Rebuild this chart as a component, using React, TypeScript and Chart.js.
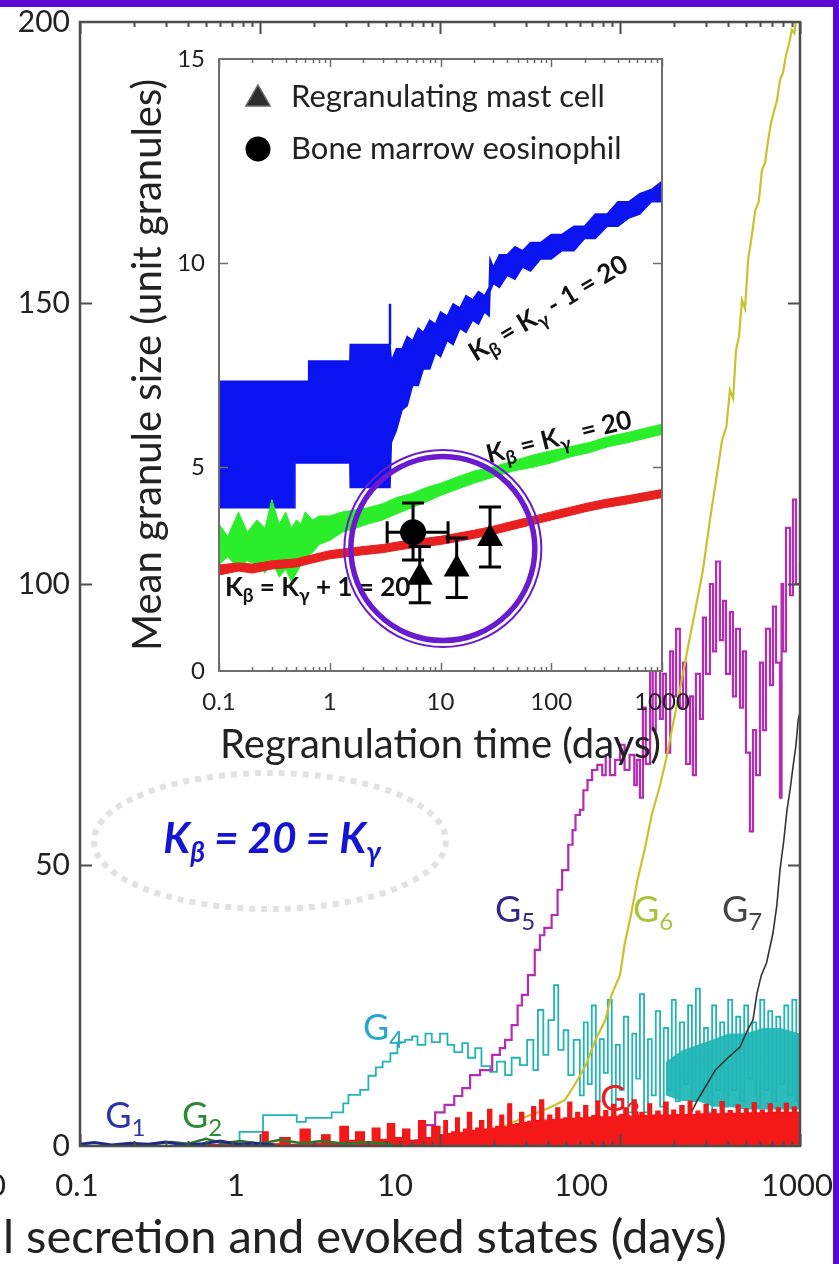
import { useEffect, useRef } from 'react';
import { Chart, registerables } from 'chart.js';

Chart.register(...registerables);

const FAMILY = 'Lato, "Open Sans", "DejaVu Sans", sans-serif';
const INK = '#222222';
const FRAME = '#5a08d2';

/* ---------- main panel: granules in each size class (G1..G7) vs time (days) ---------- */
const mainXTickText = ['0', '0.1', '1', '10', '100', '1000'];

const g1Days = [0.1, 0.12, 0.15, 0.19, 0.24, 0.3, 0.38, 0.48, 0.6, 0.75, 0.95, 1.2];
const g1Count = [0.3, 0.6, 0.2, 0.5, 0.3, 0.7, 0.2, 0.4, 0.9, 0.3, 0.5, 0.2];

const g2Days = [0.25, 0.32, 0.4, 0.5, 0.62, 0.78, 1.0, 1.3, 1.7, 2.2, 3.0, 4.0, 5.5];
const g2Count = [0.3, 0.7, 0.4, 1.3, 0.5, 0.9, 0.4, 1.1, 0.5, 0.9, 0.4, 0.7, 0.3];

const g3Days = [
  0.45, 0.6, 0.75, 0.94, 1.03, 1.11, 1.29, 1.47, 1.67, 1.9, 2.2, 2.45, 2.78, 3.1, 3.4, 3.8, 4.2, 4.64, 5.1, 5.6, 6.2, 6.8, 7.6, 8.3, 9.0,
  10, 10.5, 11, 11.6, 12.2, 12.8, 13.5, 14.2, 15, 15.8,
  16.6, 17.5, 18.4, 19.4, 20.4, 21.5, 22.6, 23.8, 25, 26.3,
  27.7, 29.2, 30.7, 32.3, 34, 35.8, 37.7, 39.7, 41.8, 44,
  46.3, 48.7, 51.3, 54, 56.8, 59.8, 62.9, 66.2, 69.7, 73.4,
  77.2, 81.3, 85.6, 90, 94.8, 99.8, 105, 111, 117, 123,
  129, 136, 143, 150, 158, 167, 175, 185, 194, 204,
  215, 227, 239, 251, 264, 278, 293, 308, 325, 342,
  360, 379, 399, 420, 442, 465, 490, 515, 543, 571,
  601, 633, 666, 701, 738, 777, 818, 861, 906, 954, 1000,
];
const g3Count = [
  0.3, 0.8, 0.3, 0.5, 2.5, 0.4, 1.5, 0.3, 3, 0.5, 2, 0.6, 3.5, 1, 2.5, 0.8, 3.2, 1.2, 4, 1.5, 3, 1, 4.5, 1.5, 3.5,
  2, 4.5, 2.2, 2.5, 5, 2.4, 3, 6, 2.8, 3.2,
  4.5, 3, 6.5, 3.2, 3.5, 5.5, 3.4, 7.5, 3.8, 4,
  6, 4.2, 4.4, 7, 4.5, 8.2, 4.6, 5.5, 4.7, 6.8,
  4.8, 5, 7.8, 4.9, 6, 5, 7.2, 5.1, 5.4, 8,
  5.2, 6.3, 5.2, 7.4, 5.3, 5.6, 6.8, 5.3, 8.2, 5.4,
  6, 5.4, 7.5, 5.5, 6.2, 5.5, 7.8, 5.5, 6.4, 5.6,
  7.2, 5.6, 8, 5.6, 6.2, 5.7, 7.4, 5.7, 6.5, 5.7,
  7.9, 5.8, 6.3, 5.8, 7.3, 5.8, 6.6, 5.9, 7.7, 5.9,
  6.4, 5.9, 7.5, 6, 6.8, 6, 7.6, 6, 6.9, 6, 7,
];

const g4Days = [
  0.7, 0.77, 1.04, 1.6, 1.8, 2.5, 2.9, 3.1, 3.6, 4.0, 4.4, 4.8, 5.3, 5.8, 6.4, 7, 7.5, 8.3, 9, 10,
  11, 12, 13.3, 14.3, 15.7, 17, 19, 20.7, 23, 25, 27.8, 30.5, 33, 35, 37.5, 40, 43, 45.4, 48.6, 51.6, 55.3,
  59.8, 62.9, 66.2, 69.7, 73.4, 77.2, 81.3, 85.6, 90, 94.8, 99.8, 105, 111, 117, 123, 129, 136, 143, 150, 158,
  167, 175, 185, 194, 204, 215, 227, 239, 251, 264, 278, 293, 308, 325, 342, 360, 379, 399, 420, 442,
  465, 490, 515, 543, 571, 601, 633, 666, 701, 738, 777, 818, 861, 906, 954, 1000,
];
const g4Count = [
  0, 2.5, 5.5, 4.3, 5.0, 6.0, 7.6, 9.1, 10, 12.5, 14, 15, 16.5, 18.5, 18.9, 19.5, 18, 20, 18.5, 20,
  18, 16.7, 18.3, 15.7, 17.4, 14.2, 13.2, 15, 12.6, 15.7, 14.4, 18.9, 13.5, 24.2, 16.2, 22.4, 28.6, 17.1, 20.6, 12.6, 18.9,
  9, 22, 11, 25, 8, 19, 13, 26, 7, 18, 10, 23, 6, 20, 12, 27, 6, 19, 9, 24,
  7, 21, 10, 26, 8, 22, 11, 25, 8, 28, 9, 21, 6, 25, 10, 22, 7, 26, 10, 23,
  8, 25, 12, 22, 7, 26, 10, 24, 8, 23, 11, 25, 9, 26, 8, 22,
];

// dense spread of the G4 trace at late times
const g4SpreadDays = [180, 220, 270, 330, 400, 500, 620, 780, 1000];
const g4SpreadLow = [9, 8, 8, 7, 7, 6.5, 6.5, 6.5, 6.5];
const g4SpreadHigh = [15, 17, 18, 19, 20, 20, 21, 21, 20];

const g5Days = [
  6.3, 7.3, 8.3, 9.4, 10.6, 12, 13.3, 14.7, 16.7, 19.5, 21.5, 23, 25, 27, 28.5, 30.8, 33.6, 35.9, 38, 41.7,
  45, 47.7, 51.6, 54.5, 56.6, 59.9, 62.6, 66, 70, 74.8, 79.7, 83.3, 87.9, 94, 100, 106, 113, 120, 124,
  129, 134, 139, 147, 152, 158, 167, 173, 180, 190, 197, 205, 215, 224, 233, 245, 254, 264, 278, 289,
  300, 316, 329, 342, 359, 374, 388, 408, 424, 441, 464, 482, 501, 527, 548, 570, 599, 623, 647, 681,
  708, 736, 774, 790, 805, 836, 880, 914, 950, 1000,
];
const g5Count = [
  0, 1, 3.7, 6, 7.3, 8.9, 10.3, 12.6, 13.5, 16.2, 17.4, 18.9, 21.5, 25, 26.9, 30.4, 34.9, 37.5, 38.8, 41.1,
  45.6, 49.1, 53.6, 56.2, 58.9, 59.8, 63.3, 65.1, 66.9, 67.8, 66, 69.6, 66, 68.7, 71.4, 66.9, 69.6, 64.2, 68.7,
  62, 78, 68, 86, 74, 90, 76, 84, 70, 88, 80, 92, 78, 86, 68, 80, 66, 84, 76, 94,
  84, 100, 88, 104, 90, 97, 84, 95, 80, 92, 78, 88, 70, 56, 74, 66, 86, 74, 92, 82,
  96, 86, 62, 100, 88, 110, 98, 115, 100, 104,
];

const g6Days = [
  5, 12, 14.7, 15.7, 17.9, 21.5, 26, 31.6, 38, 43.6, 49.5, 56, 64.6, 73.2, 82.9, 89.8, 100, 106, 115, 125,
  137, 150, 167, 180, 194, 215, 237, 262, 289, 316, 342, 369, 390, 408, 425, 441, 458, 476, 495, 515,
  540, 564, 590, 615, 640, 665, 690, 719, 745, 774, 805, 836, 868, 900, 930, 957,
];
const g6Count = [
  0, 0.7, 0.7, 1.4, 2.3, 3.2, 4.3, 5.5, 6.4, 7.3, 8.2, 10.9, 14.4, 18.9, 22.4, 26.9, 30.4, 35.8, 41.1, 47.3,
  52.7, 58.9, 64.2, 68.7, 74, 81.1, 88.3, 95.4, 102.5, 111.4, 118.5, 125.6, 128, 134.5, 133, 141.6, 144, 150.5, 149, 157.7,
  162, 166.5, 168, 173.7, 175, 179, 182, 184.3, 186, 189.7, 191, 194.1, 196, 198.6, 198, 201,
];

const g7Days = [129, 147, 177, 215, 237, 270, 303, 338, 398, 464, 511, 548, 577, 610, 652, 708, 744, 774, 813, 847, 880, 914, 950, 977, 1000];
const g7Count = [0, 0.7, 1.8, 3.2, 4.6, 8.2, 10.9, 13.5, 15.7, 17.6, 20.6, 22.4, 27.2, 30.4, 32.6, 37.9, 42.9, 49.1, 54.4, 59.8, 63.3, 67.4, 71.4, 75.8, 77.2];

/* ---------- inset: mean granule size (unit granules) vs regranulation time ---------- */
const insetXTicks = [0.1, 1, 10, 100, 1000];

const kPlusDays = [0.1, 0.15, 0.2, 0.3, 0.5, 0.7, 1, 2, 3, 5, 10, 20, 30, 50, 100, 200, 300, 500, 1000];
const kPlusLow = [2.35, 2.45, 2.4, 2.5, 2.55, 2.65, 2.75, 2.85, 2.9, 3.0, 3.1, 3.25, 3.35, 3.5, 3.7, 3.9, 4.0, 4.1, 4.25];
const kPlusHigh = [2.6, 2.65, 2.62, 2.7, 2.75, 2.85, 2.95, 3.05, 3.1, 3.2, 3.3, 3.45, 3.55, 3.7, 3.9, 4.1, 4.2, 4.3, 4.45];

const kEqualDays = [0.1, 0.12, 0.15, 0.18, 0.22, 0.26, 0.3, 0.35, 0.4, 0.45, 0.5, 0.55, 0.6, 0.7, 0.8, 1, 1.3, 1.7, 2.2, 3, 4, 5.5, 7.5, 10, 14, 20, 30, 45, 70, 100, 150, 220, 330, 500, 700, 1000];
const kEqualLow = [2.6, 2.8, 2.5, 2.7, 2.6, 2.4, 2.7, 2.3, 2.5, 2.2, 2.4, 2.6, 2.8, 2.9, 3.1, 3.2, 3.4, 3.5, 3.6, 3.7, 3.85, 4.0, 4.15, 4.3, 4.45, 4.6, 4.75, 4.9, 5.0, 5.1, 5.25, 5.35, 5.5, 5.6, 5.7, 5.8];
const kEqualHigh = [3.6, 3.3, 3.9, 3.4, 3.7, 3.5, 4.2, 3.6, 3.9, 3.5, 3.7, 3.6, 3.9, 3.7, 3.8, 3.8, 3.9, 3.95, 4.0, 4.1, 4.25, 4.35, 4.5, 4.6, 4.75, 4.9, 5.0, 5.15, 5.3, 5.4, 5.5, 5.6, 5.75, 5.85, 5.95, 6.05];

const kMinusDays = [0.1, 0.48, 0.485, 0.64, 0.645, 1.52, 1.53, 3.45, 3.5, 3.6, 4.0, 4.5, 5, 5.6, 6.3, 7, 8, 9, 10, 11.5, 13, 15, 17, 19.5, 22, 25, 27.5, 28, 30, 34, 40, 47, 55, 65, 80, 100, 125, 160, 200, 250, 320, 400, 500, 630, 800, 1000];
const kMinusLow = [4.0, 4.0, 5.1, 5.1, 5.1, 5.1, 4.5, 4.5, 4.5, 5.6, 5.9, 6.4, 6.5, 7.0, 7.0, 7.4, 7.4, 7.8, 7.7, 8.1, 8.0, 8.4, 8.3, 8.6, 8.5, 8.8, 8.7, 9.3, 9.5, 9.4, 9.7, 9.6, 9.9, 9.8, 10.1, 10.1, 10.3, 10.3, 10.6, 10.6, 10.9, 10.9, 11.1, 11.2, 11.5, 11.5];
const kMinusHigh = [7.1, 7.1, 7.1, 7.1, 7.6, 7.6, 8.0, 8.0, 8.0, 7.6, 7.9, 7.9, 8.2, 8.1, 8.4, 8.3, 8.6, 8.5, 8.8, 8.7, 9.0, 8.9, 9.2, 9.1, 9.3, 9.2, 9.4, 10.1, 9.9, 10.2, 10.2, 10.4, 10.3, 10.5, 10.5, 10.7, 10.7, 10.9, 10.9, 11.2, 11.2, 11.5, 11.5, 11.7, 11.8, 12.0];
const kMinusSpikeDays = [3.5, 3.5];
const kMinusSpikeSize = [8.0, 9.0];

const mastDays = [6.5, 14, 28];
const mastSize = [2.3, 2.5, 3.25];
const mastLow = [1.67, 1.8, 2.55];
const mastHigh = [3.05, 3.26, 4.02];

const eosDays = [5.65];
const eosSize = [3.4];
const eosLow = [2.72];
const eosHigh = [4.12];
const eosDaysLow = [3.3];
const eosDaysHigh = [11.7];

/* ---------- helpers ---------- */
const pts = (xs: number[], ys: number[]) => xs.map((x, i) => ({ x, y: ys[i] }));

function trace(label: string, xs: number[], ys: number[], color: string, width: number, order: number, extra: any = {}) {
  return {
    label,
    data: pts(xs, ys),
    borderColor: color,
    backgroundColor: color,
    borderWidth: width,
    pointRadius: 0,
    fill: false,
    tension: 0,
    order,
    ...extra,
  };
}

type Seg = { text: string; sub?: boolean };

function drawRich(
  ctx: CanvasRenderingContext2D,
  segs: Seg[],
  x: number,
  y: number,
  o: { size: number; subSize: number; subShift: number; weight?: string; style?: string; color: string; align?: 'left' | 'center' }
) {
  const font = (sub?: boolean) => `${o.style || 'normal'} ${o.weight || 'normal'} ${sub ? o.subSize : o.size}px ${FAMILY}`;
  ctx.save();
  ctx.fillStyle = o.color;
  ctx.textAlign = 'left';
  ctx.textBaseline = 'alphabetic';
  let total = 0;
  for (const s of segs) {
    ctx.font = font(s.sub);
    total += ctx.measureText(s.text).width;
  }
  let cx = o.align === 'center' ? x - total / 2 : x;
  for (const s of segs) {
    ctx.font = font(s.sub);
    ctx.fillText(s.text, cx, y + (s.sub ? o.subShift : 0));
    cx += ctx.measureText(s.text).width;
  }
  ctx.restore();
}

function logTicks(ctx: CanvasRenderingContext2D, scale: any, area: any, major: number, minor: number) {
  ctx.beginPath();
  for (let e = -1; e <= 3; e++) {
    for (let k = 1; k <= 9; k++) {
      const v = k * Math.pow(10, e);
      if (v < scale.min * 0.999 || v > scale.max * 1.001) continue;
      const x = Math.round(scale.getPixelForValue(v)) + 0.5;
      const len = k === 1 ? major : minor;
      ctx.moveTo(x, area.bottom);
      ctx.lineTo(x, area.bottom - len);
      ctx.moveTo(x, area.top);
      ctx.lineTo(x, area.top + len);
    }
  }
  ctx.stroke();
}

function linTicks(ctx: CanvasRenderingContext2D, scale: any, area: any, values: number[], len: number) {
  ctx.beginPath();
  for (const v of values) {
    const y = Math.round(scale.getPixelForValue(v)) + 0.5;
    ctx.moveTo(area.left, y);
    ctx.lineTo(area.left + len, y);
    ctx.moveTo(area.right, y);
    ctx.lineTo(area.right - len, y);
  }
  ctx.stroke();
}

/* ---------- main panel decorations ---------- */
const mainXLabelCenters = [-3, 77, 236, 395, 581, 797];

const groupLabels: { n: string; day: number; count: number; color: string }[] = [
  { n: '1', day: 0.138, count: 3.2, color: '#2b35a8' },
  { n: '2', day: 0.369, count: 3.2, color: '#2f8a35' },
  { n: '3', day: 77.4, count: 6.2, color: '#e8202a' },
  { n: '4', day: 3.73, count: 18.9, color: '#27a7c9' },
  { n: '5', day: 20.2, count: 39.9, color: '#33288a' },
  { n: '6', day: 118, count: 39.9, color: '#a9c43b' },
  { n: '7', day: 369, count: 39.9, color: '#444444' },
];

const mainDecor = {
  id: 'mainDecor',
  afterDraw(chart: any) {
    const { ctx, chartArea: a, scales } = chart;
    const x = scales.x;
    const y = scales.y;
    ctx.save();
    ctx.strokeStyle = '#4d4d4d';
    ctx.lineWidth = 2;
    logTicks(ctx, x, a, 12, 5);
    linTicks(ctx, y, a, [50, 100, 150], 12);
    ctx.lineWidth = 2.5;
    ctx.strokeRect(a.left, a.top, a.right - a.left, a.bottom - a.top);

    // time axis labels and title
    ctx.fillStyle = INK;
    ctx.font = `31px ${FAMILY}`;
    ctx.textAlign = 'center';
    ctx.textBaseline = 'middle';
    mainXTickText.forEach((t, i) => ctx.fillText(t, mainXLabelCenters[i], 1186));
    ctx.font = `47px ${FAMILY}`;
    ctx.textAlign = 'left';
    ctx.fillText('l secretion and evoked states (days)', 3, 1238);

    // size-class labels
    for (const g of groupLabels) {
      drawRich(ctx, [{ text: 'G' }, { text: g.n, sub: true }], x.getPixelForValue(g.day), y.getPixelForValue(g.count), {
        size: 36,
        subSize: 24,
        subShift: 8,
        color: g.color,
      });
    }

    // parameter annotation inside a dotted oval
    ctx.beginPath();
    ctx.ellipse(270, 841, 176, 68, 0, 0, Math.PI * 2);
    ctx.setLineDash([6, 6]);
    ctx.lineWidth = 6;
    ctx.strokeStyle = '#e2e2e2';
    ctx.stroke();
    ctx.setLineDash([]);
    drawRich(
      ctx,
      [{ text: 'K' }, { text: 'β', sub: true }, { text: ' = 20 = K' }, { text: 'γ', sub: true }],
      272,
      853,
      { size: 42, subSize: 28, subShift: 9, weight: 'bold', style: 'italic', color: '#1414d2', align: 'center' }
    );
    ctx.restore();
  },
};

/* ---------- inset decorations ---------- */
const insetDecor = {
  id: 'insetDecor',
  beforeDraw(chart: any) {
    const { ctx, chartArea: a } = chart;
    ctx.save();
    ctx.fillStyle = '#ffffff';
    ctx.fillRect(a.left, a.top, a.right - a.left, a.bottom - a.top);
    ctx.restore();
  },
  afterDatasetsDraw(chart: any) {
    const { ctx, scales } = chart;
    const x = scales.x;
    const y = scales.y;
    const cap = 11;
    ctx.save();
    ctx.strokeStyle = '#000';
    ctx.lineWidth = 3;
    const vbar = (d: number, lo: number, hi: number) => {
      const px = x.getPixelForValue(d);
      const y0 = y.getPixelForValue(lo);
      const y1 = y.getPixelForValue(hi);
      ctx.beginPath();
      ctx.moveTo(px, y0);
      ctx.lineTo(px, y1);
      ctx.moveTo(px - cap, y0);
      ctx.lineTo(px + cap, y0);
      ctx.moveTo(px - cap, y1);
      ctx.lineTo(px + cap, y1);
      ctx.stroke();
    };
    mastDays.forEach((d, i) => vbar(d, mastLow[i], mastHigh[i]));
    eosDays.forEach((d, i) => {
      vbar(d, eosLow[i], eosHigh[i]);
      const py = y.getPixelForValue(eosSize[i]);
      const x0 = x.getPixelForValue(eosDaysLow[i]);
      const x1 = x.getPixelForValue(eosDaysHigh[i]);
      ctx.beginPath();
      ctx.moveTo(x0, py);
      ctx.lineTo(x1, py);
      ctx.moveTo(x0, py - cap);
      ctx.lineTo(x0, py + cap);
      ctx.moveTo(x1, py - cap);
      ctx.lineTo(x1, py + cap);
      ctx.stroke();
    });
    ctx.restore();
  },
  afterDraw(chart: any) {
    const { ctx, chartArea: a, scales } = chart;
    const x = scales.x;
    const y = scales.y;
    ctx.save();
    ctx.strokeStyle = '#6e6e6e';
    ctx.lineWidth = 1.5;
    logTicks(ctx, x, a, 8, 4);
    linTicks(ctx, y, a, [5, 10], 9);
    ctx.lineWidth = 2;
    ctx.strokeRect(a.left, a.top, a.right - a.left, a.bottom - a.top);

    // legend
    const lx = a.left + 39;
    ctx.beginPath();
    const r = 14;
    const ty = a.top + 40;
    ctx.moveTo(lx, ty - r);
    ctx.lineTo(lx + r * 0.866, ty + r * 0.5);
    ctx.lineTo(lx - r * 0.866, ty + r * 0.5);
    ctx.closePath();
    ctx.fillStyle = '#2e2e2e';
    ctx.fill();
    ctx.strokeStyle = '#666';
    ctx.lineWidth = 1.5;
    ctx.stroke();
    ctx.beginPath();
    ctx.arc(lx, a.top + 90, 12.5, 0, Math.PI * 2);
    ctx.fillStyle = '#000';
    ctx.fill();
    ctx.fillStyle = INK;
    ctx.font = `31px ${FAMILY}`;
    ctx.textAlign = 'left';
    ctx.textBaseline = 'alphabetic';
    ctx.fillText('Regranulating mast cell', a.left + 72, a.top + 48);
    ctx.fillText('Bone marrow eosinophil', a.left + 72, a.top + 100);

    // curve labels
    const lab = { size: 26, subSize: 19, subShift: 6, weight: 'bold', color: '#111' };
    const rotated = (segs: Seg[], d: number, v: number, deg: number) => {
      ctx.save();
      ctx.translate(x.getPixelForValue(d), y.getPixelForValue(v));
      ctx.rotate((deg * Math.PI) / 180);
      drawRich(ctx, segs, 0, 9, { ...lab, align: 'center' });
      ctx.restore();
    };
    rotated([{ text: 'K' }, { text: 'β', sub: true }, { text: ' = K' }, { text: 'γ', sub: true }, { text: ' - 1 = 20' }], 93.5, 8.9, -31);
    rotated([{ text: 'K' }, { text: 'β', sub: true }, { text: ' = K' }, { text: 'γ', sub: true }, { text: '  = 20' }], 117, 5.74, -14);
    drawRich(
      ctx,
      [{ text: 'K' }, { text: 'β', sub: true }, { text: ' = K' }, { text: 'γ', sub: true }, { text: ' + 1 = 20' }],
      x.getPixelForValue(0.113),
      y.getPixelForValue(1.83),
      lab
    );

    // highlight ring around the measured cells
    const cx = x.getPixelForValue(10.5);
    const cy = y.getPixelForValue(3.0);
    ctx.strokeStyle = '#6a1bd0';
    ctx.lineWidth = 5.5;
    ctx.beginPath();
    ctx.arc(cx, cy, 92, 0, Math.PI * 2);
    ctx.stroke();
    ctx.lineWidth = 2;
    ctx.beginPath();
    ctx.arc(cx, cy, 98.5, 0, Math.PI * 2);
    ctx.stroke();
    ctx.restore();
  },
};

export default function App() {
  const mainRef = useRef<HTMLCanvasElement>(null);
  const insetRef = useRef<HTMLCanvasElement>(null);

  useEffect(() => {
    document.body.style.margin = '0';
    const tickFont = (size: number) => ({ family: FAMILY, size });

    const main = new Chart(mainRef.current as HTMLCanvasElement, {
      type: 'line',
      data: {
        datasets: [
          trace('G1', g1Days, g1Count, '#1b2a8a', 3, 0),
          trace('G2', g2Days, g2Count, '#2b7a2b', 2.5, 1),
          trace('G3', g3Days, g3Count, '#f01414', 1.2, 2, { fill: 'origin', stepped: true, backgroundColor: '#f51818' }),
          trace('G7', g7Days, g7Count, '#333333', 1.6, 3),
          trace('G6', g6Days, g6Count, '#c9c22a', 2.2, 4),
          trace('G5', g5Days, g5Count, '#b52bb5', 2.2, 5, { stepped: true }),
          trace('G4', g4Days, g4Count, '#22b4b4', 1.8, 6, { stepped: true }),
          trace('G4 spread low', g4SpreadDays, g4SpreadLow, 'rgba(0,0,0,0)', 0, 7),
          trace('G4 spread high', g4SpreadDays, g4SpreadHigh, '#2cbcbc', 0, 8, { fill: '-1', backgroundColor: '#2cbcbc' }),
        ],
      },
      options: {
        animation: false,
        responsive: false,
        devicePixelRatio: 1,
        layout: { padding: { left: 0, top: 22, right: 39, bottom: 0 } },
        plugins: { legend: { display: false }, tooltip: { enabled: false } },
        scales: {
          x: {
            type: 'logarithmic',
            min: 0.1,
            max: 1000,
            grid: { display: false, drawTicks: false },
            border: { display: false },
            ticks: { display: false },
            afterFit: (s: any) => {
              s.height = 118;
              s.paddingLeft = 0;
              s.paddingRight = 0;
            },
          },
          y: {
            min: 0,
            max: 200,
            ticks: { stepSize: 50, padding: 10, color: INK, font: tickFont(30) },
            grid: { display: false, drawTicks: false },
            border: { display: false },
            afterFit: (s: any) => {
              s.width = 80;
              s.paddingTop = 0;
              s.paddingBottom = 0;
            },
          },
        },
      } as any,
      plugins: [mainDecor],
    });

    const inset = new Chart(insetRef.current as HTMLCanvasElement, {
      type: 'line',
      data: {
        datasets: [
          trace('Kβ = Kγ + 1 low', kPlusDays, kPlusLow, '#e82020', 1, 1),
          trace('Kβ = Kγ + 1 high', kPlusDays, kPlusHigh, '#e82020', 1, 1, { fill: '-1' }),
          trace('Kβ = Kγ low', kEqualDays, kEqualLow, '#2bee2b', 1, 2),
          trace('Kβ = Kγ high', kEqualDays, kEqualHigh, '#2bee2b', 1, 2, { fill: '-1' }),
          trace('Kβ = Kγ - 1 low', kMinusDays, kMinusLow, '#0a14f0', 1.5, 3),
          trace('Kβ = Kγ - 1 high', kMinusDays, kMinusHigh, '#0a14f0', 1.5, 3, { fill: '-1' }),
          trace('Kβ = Kγ - 1 spike', kMinusSpikeDays, kMinusSpikeSize, '#0a14f0', 2.5, 3),
          {
            label: 'Regranulating mast cell',
            data: pts(mastDays, mastSize),
            showLine: false,
            pointStyle: 'triangle',
            pointRadius: 15,
            pointBackgroundColor: '#000',
            pointBorderColor: '#000',
            pointBorderWidth: 0,
            order: 0,
          },
          {
            label: 'Bone marrow eosinophil',
            data: pts(eosDays, eosSize),
            showLine: false,
            pointStyle: 'circle',
            pointRadius: 13,
            pointBackgroundColor: '#000',
            pointBorderColor: '#000',
            pointBorderWidth: 0,
            order: 0,
          },
        ],
      },
      options: {
        animation: false,
        responsive: false,
        devicePixelRatio: 1,
        layout: { padding: { left: 24, top: 19, right: 38, bottom: 11 } },
        plugins: { legend: { display: false }, tooltip: { enabled: false } },
        scales: {
          x: {
            type: 'logarithmic',
            min: 0.1,
            max: 1000,
            afterBuildTicks: (s: any) => {
              s.ticks = insetXTicks.map((v) => ({ value: v }));
            },
            ticks: {
              autoSkip: false,
              maxRotation: 0,
              padding: 17,
              color: INK,
              font: tickFont(24),
              callback: (v: any) => String(v),
            },
            grid: { display: false, drawTicks: false },
            border: { display: false },
            title: { display: true, text: 'Regranulation time (days)', color: INK, font: tickFont(40), padding: 0 },
            afterFit: (s: any) => {
              s.height = 98;
              s.paddingLeft = 0;
              s.paddingRight = 0;
            },
          },
          y: {
            min: 0,
            max: 15,
            ticks: { stepSize: 5, padding: 14, color: INK, font: tickFont(24) },
            grid: { display: false, drawTicks: false },
            border: { display: false },
            title: { display: true, text: 'Mean granule size (unit granules)', color: INK, font: tickFont(40), padding: 0 },
            afterFit: (s: any) => {
              s.width = 95;
              s.paddingTop = 0;
              s.paddingBottom = 0;
            },
          },
        },
      } as any,
      plugins: [insetDecor],
    });

    return () => {
      main.destroy();
      inset.destroy();
    };
  }, []);

  return (
    <div style={{ position: 'relative', width: 839, height: 1264, background: '#ffffff', overflow: 'hidden' }}>
      <canvas ref={mainRef} width={839} height={1264} style={{ position: 'absolute', left: 0, top: 0 }} />
      <canvas ref={insetRef} width={600} height={740} style={{ position: 'absolute', left: 100, top: 40 }} />
      <div style={{ position: 'absolute', left: 0, top: 0, width: 839, height: 7, background: FRAME }} />
      <div style={{ position: 'absolute', right: 0, top: 0, width: 6, height: 1264, background: FRAME }} />
    </div>
  );
}
